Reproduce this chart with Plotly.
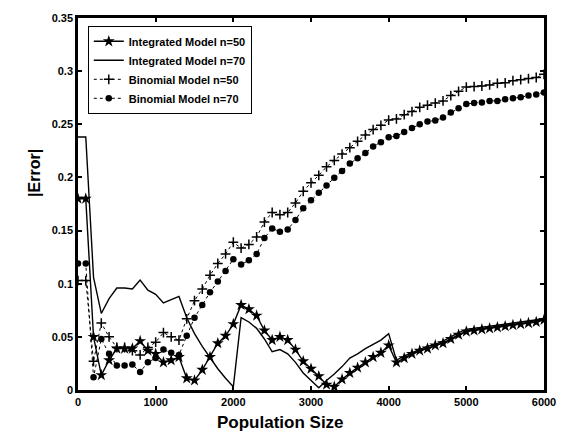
import plotly.graph_objects as go

pop = list(range(0, 6001, 100))

integrated_n50 = [0.18, 0.18, 0.05, 0.014, 0.028, 0.039, 0.039, 0.039, 0.046, 0.037,
                  0.034, 0.026, 0.028, 0.031, 0.011, 0.009, 0.019, 0.031, 0.044, 0.051,
                  0.062, 0.080, 0.076, 0.070, 0.056, 0.047, 0.050, 0.047, 0.038, 0.027,
                  0.020, 0.013, 0.005, 0.003, 0.010, 0.016, 0.021, 0.026, 0.031, 0.035,
                  0.042, 0.026, 0.030, 0.034, 0.037, 0.039, 0.042, 0.044, 0.048, 0.052,
                  0.055, 0.056, 0.057, 0.058, 0.059, 0.060, 0.061, 0.062, 0.063, 0.064,
                  0.066]

integrated_n70 = [0.238, 0.238, 0.106, 0.072, 0.086, 0.096, 0.096, 0.095, 0.1035, 0.094,
                  0.090, 0.082, 0.085, 0.088, 0.068, 0.053, 0.041, 0.030, 0.020, 0.011,
                  0.003, 0.068, 0.064, 0.058, 0.048, 0.036, 0.038, 0.034, 0.026, 0.016,
                  0.009, 0.002, 0.009, 0.015, 0.022, 0.030, 0.034, 0.039, 0.043, 0.047,
                  0.053, 0.028, 0.032, 0.035, 0.038, 0.041, 0.043, 0.046, 0.050, 0.054,
                  0.057, 0.058, 0.059, 0.060, 0.061, 0.062, 0.063, 0.064, 0.065, 0.066,
                  0.067]

binomial_n50 = [0.103, 0.103, 0.027, 0.063, 0.050, 0.040, 0.040, 0.037, 0.033, 0.040,
                0.045, 0.054, 0.050, 0.047, 0.067, 0.084, 0.095, 0.108, 0.119, 0.128,
                0.139, 0.1335, 0.137, 0.144, 0.158, 0.167, 0.165, 0.167, 0.176, 0.187,
                0.195, 0.202, 0.210, 0.216, 0.222, 0.228, 0.234, 0.240, 0.245, 0.249,
                0.254, 0.255, 0.259, 0.262, 0.266, 0.268, 0.270, 0.272, 0.277, 0.281,
                0.285, 0.2855, 0.286, 0.287, 0.2885, 0.289, 0.291, 0.292, 0.293, 0.294,
                0.297]

binomial_n70 = [0.119, 0.119, 0.012, 0.048, 0.034, 0.023, 0.023, 0.024, 0.017, 0.026,
                0.030, 0.038, 0.035, 0.033, 0.051, 0.068, 0.080, 0.092, 0.102, 0.112,
                0.123, 0.118, 0.122, 0.128, 0.143, 0.152, 0.149, 0.151, 0.160, 0.171,
                0.1785, 0.1856, 0.1925, 0.1996, 0.206, 0.213, 0.218, 0.223, 0.229, 0.233,
                0.2377, 0.239, 0.2427, 0.2464, 0.250, 0.2527, 0.2535, 0.2564, 0.261, 0.265,
                0.269, 0.270, 0.2704, 0.272, 0.272, 0.2736, 0.2745, 0.2755, 0.277, 0.278,
                0.280]

x_ticks = [0, 1000, 2000, 3000, 4000, 5000, 6000]
y_ticks = [0, 0.05, 0.1, 0.15, 0.2, 0.25, 0.3, 0.35]
y_labels = ["0", "0.05", "0.1", "0.15", "0.2", "0.25", "0.3", "0.35"]

FONT = "Liberation Sans, Arial, Helvetica, sans-serif"

fig = go.Figure()
fig.add_trace(go.Scatter(
    x=pop, y=integrated_n50, mode="lines+markers", name="Integrated Model n=50",
    line=dict(color="black", width=1.4),
    marker=dict(symbol="star", size=9, color="black")))
fig.add_trace(go.Scatter(
    x=pop, y=integrated_n70, mode="lines", name="Integrated Model n=70",
    line=dict(color="black", width=1.4)))
fig.add_trace(go.Scatter(
    x=pop, y=binomial_n50, mode="lines+markers", name="Binomial Model n=50",
    line=dict(color="black", width=1, dash="dot"),
    marker=dict(symbol="cross-thin", size=7, color="black",
                line=dict(color="black", width=1.5))))
fig.add_trace(go.Scatter(
    x=pop, y=binomial_n70, mode="lines+markers", name="Binomial Model n=70",
    line=dict(color="black", width=1, dash="dot"),
    marker=dict(symbol="circle", size=6.5, color="black")))

axis_common = dict(showgrid=False, zeroline=False, showline=True, linecolor="black",
                   linewidth=2.5, mirror="ticks", ticks="inside", ticklen=4,
                   tickwidth=1.5, tickcolor="black",
                   tickfont=dict(family=FONT, size=11, color="black"))

fig.update_xaxes(range=[0, 6000], tickvals=x_ticks,
                 ticktext=["<b>%d</b>" % v for v in x_ticks], **axis_common)
fig.update_yaxes(range=[0, 0.35], tickvals=y_ticks,
                 ticktext=["<b>%s</b>" % s for s in y_labels], **axis_common)

fig.update_layout(
    width=568, height=432,
    margin=dict(l=78, r=16, t=16, b=42),
    paper_bgcolor="white", plot_bgcolor="white",
    showlegend=True,
    legend=dict(x=0.021, y=0.979, xanchor="left", yanchor="top",
                bgcolor="white", bordercolor="black", borderwidth=1,
                font=dict(family=FONT, size=11, color="black", weight="bold"),
                itemwidth=30, tracegroupgap=0),
    annotations=[
        dict(text="<b>Population Size</b>", xref="paper", yref="paper",
             x=(284 - 78) / 474, y=-(423 - 390) / 374, xanchor="center", yanchor="middle",
             showarrow=False,
             font=dict(family=FONT, size=17, color="black")),
        dict(text="<b>|Error|</b>", xref="paper", yref="paper",
             x=-(78 - 33) / 474, y=(390 - 172) / 374, xanchor="center", yanchor="middle",
             textangle=-90, showarrow=False,
             font=dict(family=FONT, size=16, color="black")),
    ],
)

fig.write_html("out.html")
